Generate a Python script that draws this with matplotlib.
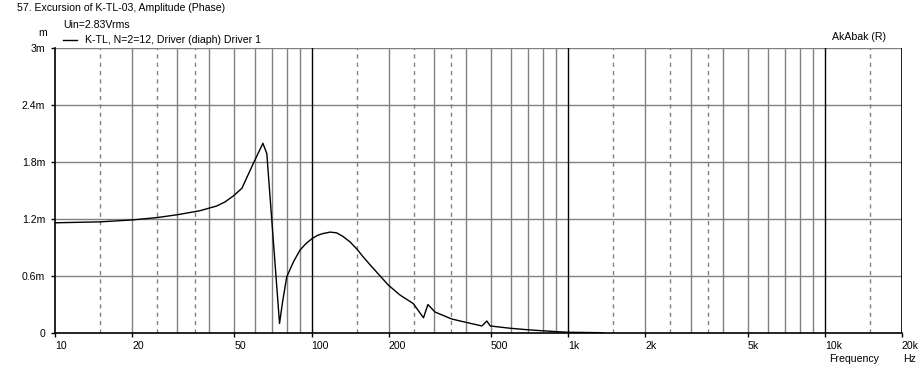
import numpy as np
import matplotlib
matplotlib.use('Agg')
import matplotlib.pyplot as plt

plt.rcParams['font.family'] = ['Liberation Sans', 'DejaVu Sans']
plt.rcParams['font.size'] = 7.6

# excursion curve (Hz, mm)
freq = [10, 15, 20, 25, 30, 36.7, 42.7, 46, 49.5, 53.5, 59.3, 64.6, 66.9, 75, 77, 80,
        85, 90.2, 95, 100, 105, 110, 118, 125, 132, 141, 150, 159, 170, 185, 199,
        221, 249, 273, 284, 303, 352, 403, 461, 482, 497, 594, 711, 904, 1000, 1368]
excursion = [1.16, 1.17, 1.19, 1.215, 1.245, 1.287, 1.337, 1.38, 1.442, 1.523, 1.786,
             1.997, 1.89, 0.10, 0.32, 0.59, 0.75, 0.874, 0.94, 0.99, 1.025, 1.045,
             1.062, 1.055, 1.02, 0.96, 0.885, 0.80, 0.71, 0.60, 0.505, 0.40, 0.31,
             0.16, 0.30, 0.22, 0.147, 0.11, 0.074, 0.126, 0.074, 0.05, 0.032, 0.014,
             0.008, 0.003]

xtick_pos = [10, 20, 50, 100, 200, 500, 1000, 2000, 5000, 10000, 20000]
xtick_lab = ['10', '20', '50', '100', '200', '500', '1k', '2k', '5k', '10k', '20k']
ytick_pos = [0, 0.6, 1.2, 1.8, 2.4, 3.0]
ytick_lab = ['0', '0.6m', '1.2m', '1.8m', '2.4m', '3m']

W, H = 924, 371
fig = plt.figure(figsize=(W / 100, H / 100), dpi=100)
ax = fig.add_axes([55 / W, 1 - 333 / H, (902 - 55) / W, (333 - 48) / H])
ax.set_xscale('log')
ax.set_xlim(10, 20000)
ax.set_ylim(0, 3.0)

# grid
grey = '#808080'
for y in ytick_pos[1:]:
    ax.axhline(y, color=grey, lw=1, zorder=1)
for dec in [10, 100, 1000, 10000]:
    for m in range(2, 10):
        if dec * m <= 20000:
            ax.axvline(dec * m, color=grey, lw=1, zorder=1)
    for m in [1.5, 2.5, 3.5]:
        if dec * m <= 20000:
            ax.axvline(dec * m, color=grey, lw=1, ls=(0, (3, 3)), zorder=1)
    if dec > 10:
        ax.axvline(dec, color='black', lw=1, zorder=2)
ax.axvline(20000, color='black', lw=1.2, zorder=2)

ax.plot(freq, excursion, color='black', lw=1.0, zorder=3)

for s in ['top', 'right']:
    ax.spines[s].set_visible(False)
for s in ['left', 'bottom']:
    ax.spines[s].set_linewidth(1.2)

ax.set_yticks(ytick_pos)
ax.set_yticklabels(ytick_lab)
ax.tick_params(axis='y', length=3, width=1, pad=4)
ax.set_xticks(xtick_pos)
ax.set_xticklabels(xtick_lab, ha='left')
ax.xaxis.set_minor_locator(matplotlib.ticker.NullLocator())
ax.tick_params(axis='x', length=3, width=1, pad=3)

# text around the plot
fig.text(17 / W, 1 - 8 / H, '57. Excursion of K-TL-03, Amplitude (Phase)', va='center')
fig.text(63 / W, 1 - 25 / H, 'Uin=2.83Vrms', va='center')
fig.add_artist(plt.Line2D([63 / W, 77 / W], [1 - 40 / H, 1 - 40 / H], color='black', lw=1))
fig.text(85 / W, 1 - 40 / H, 'K-TL, N=2=12, Driver (diaph) Driver 1', va='center')
fig.text(43 / W, 1 - 33 / H, 'm', va='center', ha='center')
fig.text(832 / W, 1 - 37 / H, 'AkAbak (R)', va='center')
fig.text(829 / W, 1 - 359 / H, 'Frequency', va='center')
fig.text(903 / W, 1 - 359 / H, 'Hz', va='center')

fig.savefig('out.png', dpi=100)
